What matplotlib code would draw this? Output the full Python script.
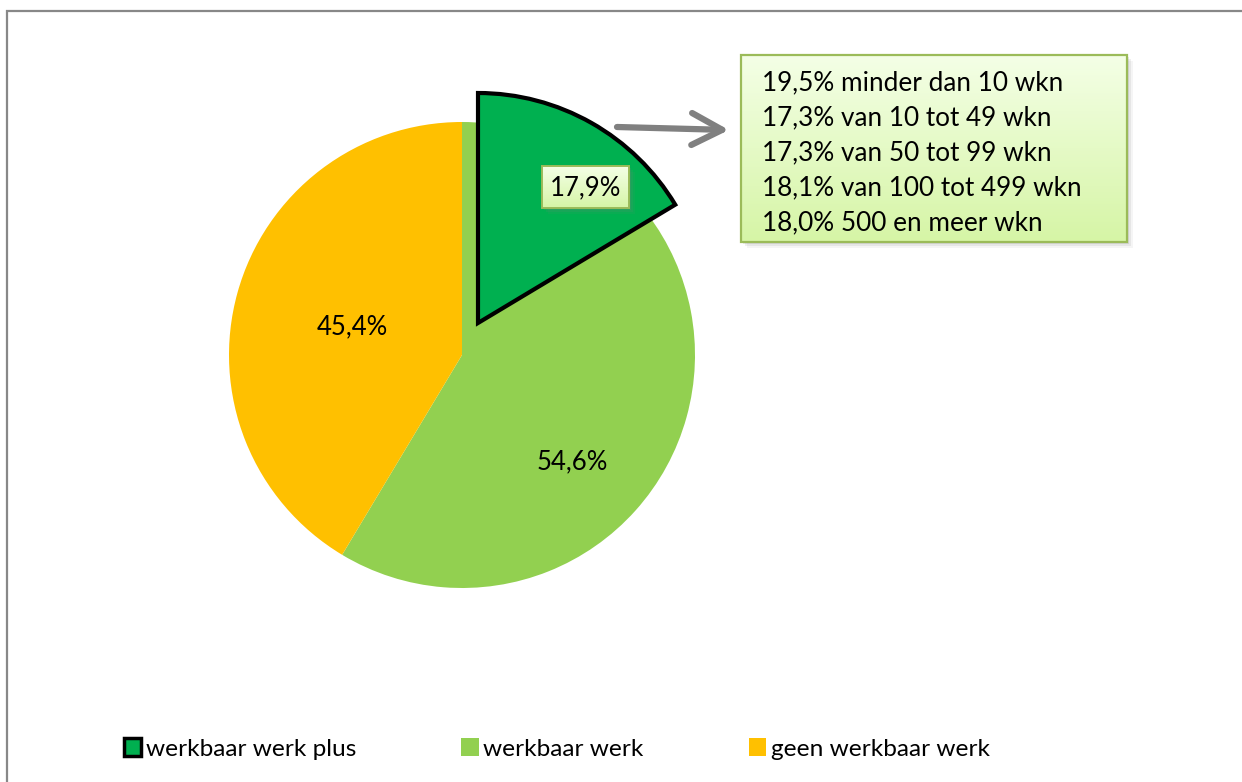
import matplotlib
matplotlib.use("Agg")
import matplotlib.pyplot as plt
import numpy as np
from matplotlib.patches import Rectangle, Patch

# data
categories = ["werkbaar werk plus", "werkbaar werk", "geen werkbaar werk"]
percent_labels = ["17,9%", "54,6%", "45,4%"]
# shares of the circle as drawn in the picture
main_shares = [58.6, 41.4]      # werkbaar werk, geen werkbaar werk
plus_share = 16.4               # exploded werkbaar werk plus wedge
detail_lines = ["19,5% minder dan 10 wkn",
                "17,3% van 10 tot 49 wkn",
                "17,3% van 50 tot 99 wkn",
                "18,1% van 100 tot 499 wkn",
                "18,0% 500 en meer wkn"]

colors = ["#00B050", "#92D050", "#FFC000"]

W, H = 1242, 782
plt.rcParams['font.family'] = ['Lato', 'DejaVu Sans']

fig = plt.figure(figsize=(W / 100, H / 100), dpi=100)
ax = fig.add_axes([0, 0, 1, 1])


def Y(y):
    # picture rows -> axes y
    return H - y


# main pie
wedges, _ = ax.pie(main_shares, colors=colors[1:], startangle=90, counterclock=False,
                   center=(462, Y(355)), radius=233, wedgeprops=dict(linewidth=0))

# exploded plus wedge
pw, _ = ax.pie([plus_share, 100 - plus_share], colors=[colors[0], "none"], startangle=90,
               counterclock=False, center=(478, Y(323)), radius=230,
               wedgeprops=dict(linewidth=3, edgecolor="black", joinstyle="miter"))
pw[1].set_visible(False)

ax.set_xlim(0, W)
ax.set_ylim(0, H)
ax.set_aspect("equal")
ax.axis("off")

# outer frame
ax.add_patch(Rectangle((7, Y(800)), 1300, 800 - 11, fill=False, edgecolor="#888888", lw=1.6))


def gradient_box(x0, y0, x1, y1, top, bottom, edge, lw):
    # shadow
    for k, a in zip([6, 4, 2], [0.08, 0.12, 0.18]):
        ax.add_patch(Rectangle((x0 + k, Y(y1 + k)), x1 - x0, y1 - y0,
                               facecolor="#808080", edgecolor="none", alpha=a, zorder=4))
    c1 = np.array(matplotlib.colors.to_rgb(top))
    c2 = np.array(matplotlib.colors.to_rgb(bottom))
    t = np.linspace(0, 1, 64)[:, None]
    img = (c1 * (1 - t) + c2 * t)[:, None, :]
    ax.imshow(img, extent=(x0, x1, Y(y1), Y(y0)), origin="upper", aspect="auto", zorder=5)
    ax.add_patch(Rectangle((x0, Y(y1)), x1 - x0, y1 - y0, fill=False,
                           edgecolor=edge, lw=lw, zorder=6))


# detail box
gradient_box(741, 55, 1127, 242, "#F4FFE6", "#D6F5A6", "#9BBB59", 1.6)
for i, line in enumerate(detail_lines):
    ax.text(762, Y(83 + 35 * i), line, fontsize=18.8, va="center", ha="left", zorder=7)

# label box for plus wedge
gradient_box(542, 166, 629, 208, "#F4FFE6", "#D6F5A6", "#9BBB59", 1.4)
ax.text(585.5, Y(188), percent_labels[0], fontsize=18.5, ha="center", va="center", zorder=7)

ax.text(572, Y(462), percent_labels[1], fontsize=18.5, ha="center", va="center")
ax.text(352, Y(327), percent_labels[2], fontsize=18.5, ha="center", va="center")

# arrow
ax.annotate("", xy=(729, Y(130)), xytext=(617, Y(127)),
            arrowprops=dict(arrowstyle="->,head_length=2.2,head_width=1.15", lw=4.5,
                            color="#808080", mutation_scale=10, capstyle="round",
                            joinstyle="round", shrinkA=0, shrinkB=0))

# legend
handles = [Patch(facecolor=colors[0], edgecolor="black", lw=2.5, label=categories[0]),
           Patch(facecolor=colors[1], edgecolor="none", label=categories[1]),
           Patch(facecolor=colors[2], edgecolor="none", label=categories[2])]
fig.legend(handles=handles, loc="center left", bbox_to_anchor=(124 / W, 1 - 749 / H),
           ncol=3, frameon=False, fontsize=17.6, handlelength=0.7, handleheight=0.7,
           handletextpad=0.2, columnspacing=4.3, borderaxespad=0, borderpad=0)

fig.savefig("out.png", dpi=100)
